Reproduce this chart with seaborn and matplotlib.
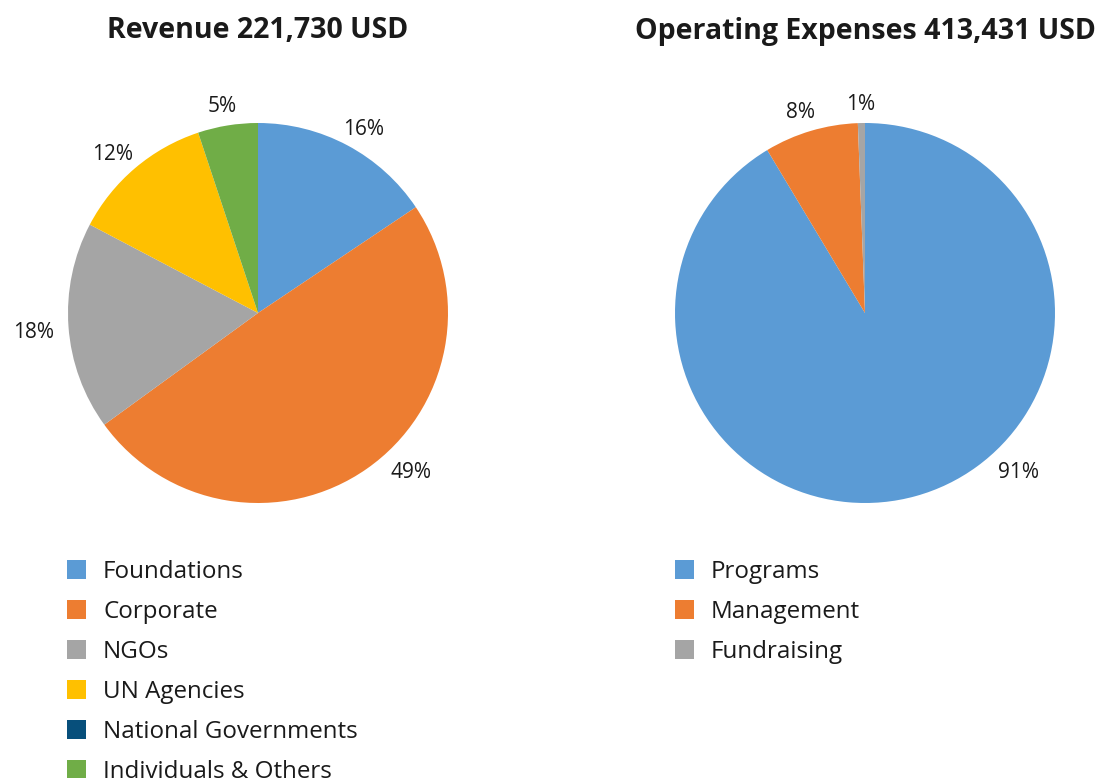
import matplotlib
matplotlib.use("Agg")
import matplotlib.pyplot as plt
import seaborn as sns
import numpy as np

# ---- data ----
rev_title = "Revenue 221,730 USD"
rev_labels = ["Foundations", "Corporate", "NGOs", "UN Agencies",
              "National Governments", "Individuals & Others"]
rev_values = [15.6, 49.4, 17.7, 12.2, 0.0, 5.1]

exp_title = "Operating Expenses 413,431 USD"
exp_labels = ["Programs", "Management", "Fundraising"]
exp_values = [91.4, 8.0, 0.6]

sns.set_theme(style="white")
plt.rcParams['font.family'] = ['Open Sans', 'DejaVu Sans']

rev_colors = ["#5B9BD5", "#ED7D31", "#A5A5A5", "#FFC000", "#074F7B", "#70AD47"]
exp_colors = ["#5B9BD5", "#ED7D31", "#A5A5A5"]

W, H = 1099, 778
fig = plt.figure(figsize=(W / 100, H / 100), dpi=100)
fig.patch.set_facecolor("white")

R_PX = 190
LIM = 1.3
half = LIM * R_PX
GAP = 13 / R_PX
HW = 22 / R_PX
HH = 10 / R_PX
DY = -4 / R_PX


def draw(cx, cy, title, labels, values, colors, overrides, legend_x):
    ax = fig.add_axes([(cx - half) / W, (H - cy - half) / H, 2 * half / W, 2 * half / H])
    wedges, _ = ax.pie(values, colors=colors, startangle=90, counterclock=False,
                       radius=1, wedgeprops=dict(linewidth=0))
    ax.set_xlim(-LIM, LIM)
    ax.set_ylim(-LIM, LIM)
    ax.set_aspect("equal")
    ax.axis("off")
    total = sum(values)
    cum = 0.0
    for lab, v in zip(labels, values):
        mid = (cum + v / 2) / total * 360
        cum += v
        if v <= 0:
            continue
        ang = np.deg2rad(overrides.get(lab, mid))
        ux, uy = np.sin(ang), np.cos(ang)
        x = (1 + GAP) * ux + HW * ux
        y = (1 + GAP) * uy + HH * uy + DY
        ax.text(x, y, f"{round(v / total * 100)}%",
                ha="center", va="center", fontsize=15, color="#1a1a1a")
    fig.text(cx / W, 1 - 31 / H, title, ha="center", va="center",
             fontsize=20.5, fontweight="bold", color="#1a1a1a")
    fig.legend(wedges, labels, loc="upper left",
               bbox_to_anchor=(legend_x / W, 1 - 560 / H),
               frameon=False, borderpad=0, borderaxespad=0,
               fontsize=17.4, handlelength=0.79, handleheight=0.79,
               handletextpad=0.70, labelspacing=0.66, labelcolor="#1a1a1a")


draw(258, 313, rev_title, rev_labels, rev_values, rev_colors, {"Corporate": 137}, 67)
draw(865, 313, exp_title, exp_labels, exp_values, exp_colors, {"Programs": 137}, 675)

fig.savefig("out.png", dpi=100, facecolor="white")
